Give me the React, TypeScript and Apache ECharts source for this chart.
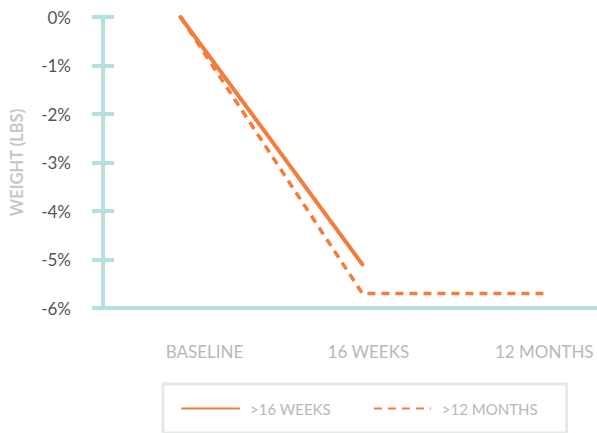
import React, { useEffect, useRef } from "react";
import * as echarts from "echarts";

const categories = ["BASELINE", "16 WEEKS", "12 MONTHS"];
const weeks16 = [0, -5.1];
const months12 = [0, -5.7, -5.7];
const seriesNames = [">16 WEEKS", ">12 MONTHS"];
const yTicks = { min: -6, max: 0, interval: 1 };

const TEAL = "#b4e1df";
const ORANGE = "#f47c3c";
const FONT = "Lato, 'Open Sans', sans-serif";

export default function App() {
  const ref = useRef<HTMLDivElement>(null);
  useEffect(() => {
    if (!ref.current) return;
    const chart = echarts.init(ref.current, undefined, { renderer: "svg" });
    chart.setOption({
      animation: false,
      grid: { left: 100, right: 0, top: 17, bottom: 125 },
      xAxis: {
        type: "value",
        min: -0.426,
        max: 2.29,
        splitLine: { show: false },
        axisLine: { show: true, onZero: false, lineStyle: { color: TEAL, width: 4 } },
        axisTick: { show: false },
        axisLabel: {
          customValues: [0, 1, 2],
          margin: 35,
          color: "#b8b8b8",
          fontFamily: FONT,
          fontSize: 17,
          formatter: (v: number) => {
            const i = Math.round(v);
            if (i === 0) return "{b|" + categories[i] + "}";
            if (i === 1) return "{c|" + categories[i] + "}";
            return categories[i] ?? "";
          },
          rich: {
            b: { padding: [0, 0, 0, 48], color: "#b8b8b8", fontFamily: FONT, fontSize: 17 },
            c: { padding: [0, 0, 0, 12], color: "#b8b8b8", fontFamily: FONT, fontSize: 17 },
          },
        },
      },
      yAxis: [
        {
          type: "value",
          min: yTicks.min,
          max: yTicks.max,
          interval: yTicks.interval,
          position: "left",
          name: "WEIGHT (LBS)",
          nameLocation: "middle",
          nameGap: 78,
          nameTextStyle: { color: "#c8c8c8", fontFamily: FONT, fontSize: 16.5, fontWeight: "bold" },
          splitLine: { show: false },
          axisLine: { show: true, onZero: false, lineStyle: { color: TEAL, width: 4 } },
          axisTick: { show: true, length: 11, lineStyle: { color: TEAL, width: 4 } },
          axisLabel: {
            margin: 32,
            color: "#4d5759",
            fontFamily: FONT,
            fontSize: 17,
            formatter: (v: number) => v + "%",
          },
        },
        {
          type: "value",
          min: yTicks.min,
          max: yTicks.max,
          interval: yTicks.interval,
          position: "left",
          splitLine: { show: false },
          axisLine: { show: false, onZero: false },
          axisTick: { show: true, inside: true, length: 11, lineStyle: { color: TEAL, width: 4 } },
          axisLabel: { show: false },
        },
      ],
      legend: {
        data: seriesNames,
        left: 163,
        top: 384,
        padding: [17, 29, 17, 18],
        borderColor: "#e4e9e9",
        borderWidth: 3,
        itemWidth: 57,
        itemHeight: 14,
        itemGap: 42,
        itemStyle: { opacity: 0 },
        textStyle: { color: "#b8b8b8", fontFamily: FONT, fontSize: 15, padding: [0, 0, 0, 6] },
      },
      series: [
        {
          name: seriesNames[1],
          type: "line",
          yAxisIndex: 0,
          symbol: "none",
          data: months12.map((v, i) => [i, v]),
          lineStyle: { color: ORANGE, width: 3.5, type: [8, 6], cap: "butt" },
          itemStyle: { color: ORANGE },
        },
        {
          name: seriesNames[0],
          type: "line",
          yAxisIndex: 0,
          symbol: "none",
          data: weeks16.map((v, i) => [i, v]),
          lineStyle: { color: ORANGE, width: 4, cap: "round" },
          itemStyle: { color: ORANGE },
        },
      ],
    });
    return () => chart.dispose();
  }, []);
  return <div ref={ref} style={{ width: 597, height: 433, position: "absolute", left: 0, top: 0 }} />;
}
